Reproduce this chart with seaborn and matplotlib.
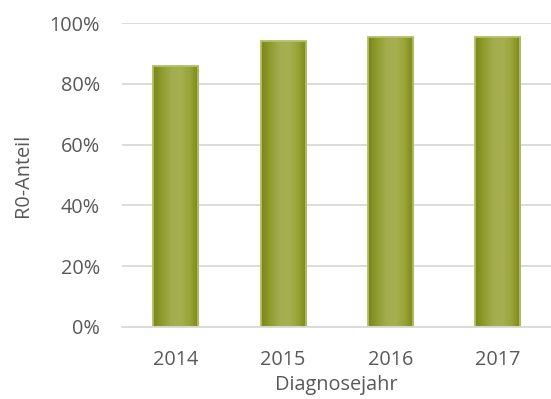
import numpy as np
import pandas as pd
import matplotlib
matplotlib.use("Agg")
import matplotlib.pyplot as plt
from matplotlib.colors import LinearSegmentedColormap
import seaborn as sns

years = ["2014", "2015", "2016", "2017"]
r0_share = [85.8, 94.0, 95.3, 95.4]
y_ticks = [0, 20, 40, 60, 80, 100]

df = pd.DataFrame({"Diagnosejahr": years, "R0-Anteil": r0_share})

sns.set_theme(style="white")
plt.rcParams["font.family"] = ["Open Sans", "DejaVu Sans"]

text_col = "#595959"
fs = 14.3
fig = plt.figure(figsize=(5.51, 3.99), dpi=100)
ax = fig.add_axes([0.222, 0.181, 0.778, 0.761])

sns.barplot(data=df, x="Diagnosejahr", y="R0-Anteil", ax=ax, width=0.42,
            color="#8f9b2c", edgecolor="#b7c46c", linewidth=1.2, zorder=3)

# horizontal olive gradient inside each bar
grad = LinearSegmentedColormap.from_list(
    "olive", ["#7a8718", "#8f9c2e", "#a3ad4d", "#a6b050", "#98a436", "#7a8718"])
ramp = np.linspace(0, 1, 256).reshape(1, -1)
for patch in ax.patches:
    x0, y0 = patch.get_x(), patch.get_y()
    w, h = patch.get_width(), patch.get_height()
    im = ax.imshow(ramp, cmap=grad, aspect="auto", zorder=3.5,
                   extent=[x0, x0 + w, y0, y0 + h], interpolation="bilinear")
    im.set_clip_path(patch)
    ax.add_patch(plt.Rectangle((x0, y0), w, h, fill=False,
                               edgecolor="#b7c46c", linewidth=1.2, zorder=4))

ax.set_xlim(-0.5, 3.5)
ax.set_ylim(0, 100)
ax.set_yticks(y_ticks)
ax.set_yticklabels([f"{t}%" for t in y_ticks])
ax.yaxis.grid(True, color="#d9d9d9", linewidth=1.3, zorder=0)
ax.set_axisbelow(True)
for s in ["top", "right", "left"]:
    ax.spines[s].set_visible(False)
ax.spines["bottom"].set_color("#d9d9d9")
ax.spines["bottom"].set_linewidth(1.3)
ax.spines["bottom"].set_zorder(5)

ax.tick_params(axis="y", length=0, pad=16, labelsize=fs, labelcolor=text_col)
ax.tick_params(axis="x", length=0, pad=17, labelsize=fs, labelcolor=text_col)
ax.set_xlabel("Diagnosejahr", fontsize=fs, color=text_col, labelpad=3)
ax.set_ylabel("R0-Anteil", fontsize=fs, color=text_col, labelpad=12)

fig.savefig("out.png", dpi=100)
